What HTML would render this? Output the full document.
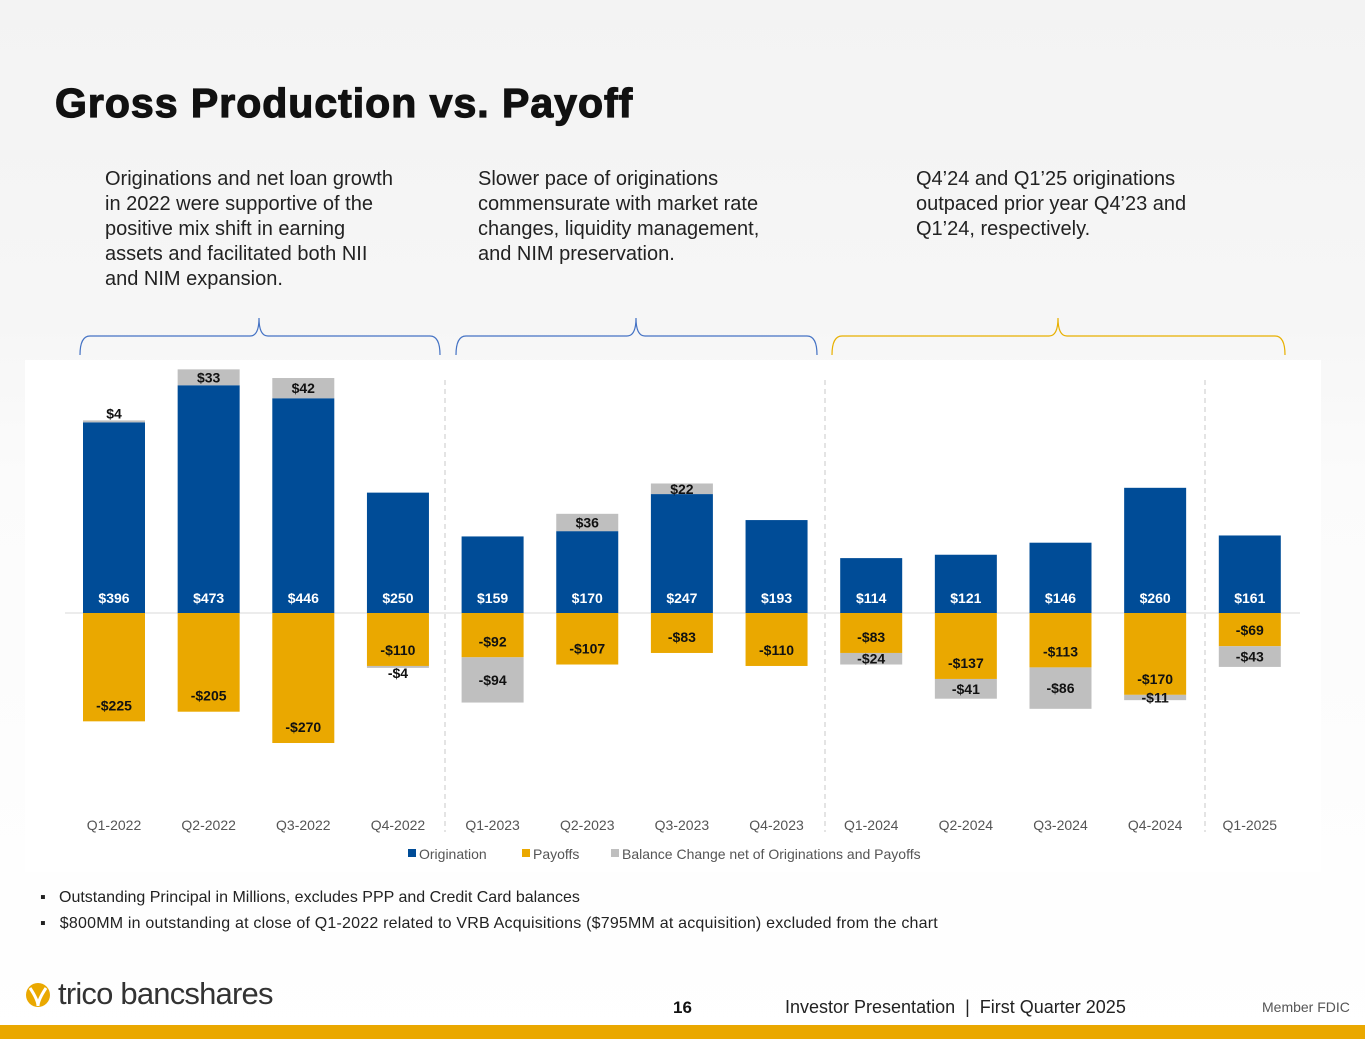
<!DOCTYPE html>
<html><head><meta charset="utf-8"><style>
body{margin:0;width:1365px;height:1055px;overflow:hidden;background:linear-gradient(180deg,#f3f3f3 0%,#f6f6f6 30%,#fbfbfb 45%,#fff 100%);font-family:"Liberation Sans",sans-serif;position:relative}
.t{position:absolute;color:#222;font-size:20px;line-height:25px}
</style></head><body>
<div style="position:absolute;left:55px;top:80px;font-size:41px;font-weight:bold;color:#111;letter-spacing:1px;-webkit-text-stroke:1.2px #111">Gross Production vs. Payoff</div>
<div class="t" style="left:105px;top:167px;width:297px">Originations and net loan growth in 2022 were supportive of the positive mix shift in earning assets and facilitated both NII and NIM expansion.</div>
<div class="t" style="left:478px;top:167px;width:300px">Slower pace of originations commensurate with market rate changes, liquidity management, and NIM preservation.</div>
<div class="t" style="left:916px;top:167px;width:290px">Q4’24 and Q1’25 originations outpaced prior year Q4’23 and Q1’24, respectively.</div>
<svg width="1365" height="1055" style="position:absolute;left:0;top:0" id="svg">
<rect x="25" y="360" width="1296" height="512" fill="#fff"/>
<path d="M80,355 Q80,336 90,336 L250,336 Q259,336 259,318 Q259,336 268,336 L430,336 Q440,336 440,355" fill="none" stroke="#4472c4" stroke-width="1.2"/>
<path d="M456,355 Q456,336 466,336 L627,336 Q636,336 636,318 Q636,336 645,336 L807,336 Q817,336 817,355" fill="none" stroke="#4472c4" stroke-width="1.2"/>
<path d="M832,355 Q832,336 842,336 L1049,336 Q1058,336 1058,318 Q1058,336 1067,336 L1275,336 Q1285,336 1285,355" fill="none" stroke="#e8b000" stroke-width="1.2"/>
<g id="chart"></g>
<rect x="408" y="849" width="8" height="8" fill="#004c97"/>
<text x="419" y="859" font-size="14" fill="#555">Origination</text>
<rect x="522" y="849" width="8" height="8" fill="#eaa800"/>
<text x="533" y="859" font-size="14" fill="#555">Payoffs</text>
<rect x="611" y="849" width="8" height="8" fill="#bfbfbf"/>
<text x="622" y="859" font-size="14" fill="#555">Balance Change net of Originations and Payoffs</text>
<g><circle cx="38" cy="995" r="12" fill="#eaa800"/><path d="M30,988 Q38,1000 38,1006 Q38,1000 46,988" fill="none" stroke="#fff" stroke-width="3"/></g>
<rect x="0" y="1025" width="1365" height="14" fill="#eaa800"/>
</svg>
<div style="position:absolute;left:40px;top:889px;font-size:16px;color:#222">▪ &nbsp;&nbsp;Outstanding Principal in Millions, excludes PPP and Credit Card balances</div>
<div style="position:absolute;left:40px;top:915px;font-size:16px;color:#222;letter-spacing:0.2px">▪ &nbsp;&nbsp;$800MM in outstanding at close of Q1-2022 related to VRB Acquisitions ($795MM at acquisition) excluded from the chart</div>
<div style="position:absolute;left:58px;top:976px;font-size:31px;color:#333;letter-spacing:-0.8px">trico bancshares</div>
<div style="position:absolute;left:673px;top:998px;font-size:17px;font-weight:bold;color:#111">16</div>
<div style="position:absolute;left:785px;top:997px;font-size:18px;color:#222">Investor Presentation &nbsp;| &nbsp;First Quarter 2025</div>
<div style="position:absolute;left:1262px;top:999px;font-size:14px;color:#555">Member FDIC</div>
<script>
const categories=["Q1-2022","Q2-2022","Q3-2022","Q4-2022","Q1-2023","Q2-2023","Q3-2023","Q4-2023","Q1-2024","Q2-2024","Q3-2024","Q4-2024","Q1-2025"];
const origination=[396,473,446,250,159,170,247,193,114,121,146,260,161];
const payoffs=[-225,-205,-270,-110,-92,-107,-83,-110,-83,-137,-113,-170,-69];
const balance=[4,33,42,-4,-94,36,22,0,-24,-41,-86,-11,-43];
const NS='http://www.w3.org/2000/svg';
const g=document.getElementById('chart');
const y0=613,k=0.4815,x0=114,step=94.65,bw=62;
const X=i=>x0+i*step, Y=v=>y0-v*k;
function mk(t,a){const e=document.createElementNS(NS,t);for(const n in a)e.setAttribute(n,a[n]);g.appendChild(e);return e;}
function lbl(x,y,s,c){const e=mk('text',{x:x,y:y,'text-anchor':'middle','font-size':14,'font-weight':'bold',fill:c});e.textContent=s;return e;}
const fmt=v=>(v<0?'-$':'$')+Math.abs(v);
[445,825,1205].forEach(x=>{const l=mk('line',{x1:x,x2:x,y1:380,y2:832,stroke:'#c8c8c8','stroke-dasharray':'5,4'});

});
const zl=mk('line',{x1:65,x2:1300,y1:y0,y2:y0,stroke:'#d9d9d9'});


categories.forEach((c,i)=>{
const cx=X(i),o=origination[i],p=payoffs[i],b=balance[i];
const r1=mk('rect',{x:cx-bw/2,y:Y(o),width:bw,height:o*k,fill:'#004c97'});


const r2=mk('rect',{x:cx-bw/2,y:y0,width:bw,height:-p*k,fill:'#eaa800'});


let by1,by2;
if(b>0){by1=Y(o+b);by2=Y(o);}else{by1=Y(p);by2=Y(p+b);}
if(b!==0){const r3=mk('rect',{x:cx-bw/2,y:by1,width:bw,height:by2-by1,fill:'#bfbfbf'});


const ly=Math.abs(b)<8?(b>0?by1-2:by2+10):(by1+by2)/2+5;
const t3=lbl(cx,ly,fmt(b),'#111');

}
const t1=lbl(cx,y0-10,fmt(o),'#fff');


const t2=lbl(cx,Y(p)-11,fmt(p),'#111');


const tx=mk('text',{x:cx,y:830,'text-anchor':'middle','font-size':14,fill:'#555'});tx.textContent=c;


});
</script>
</body></html>
